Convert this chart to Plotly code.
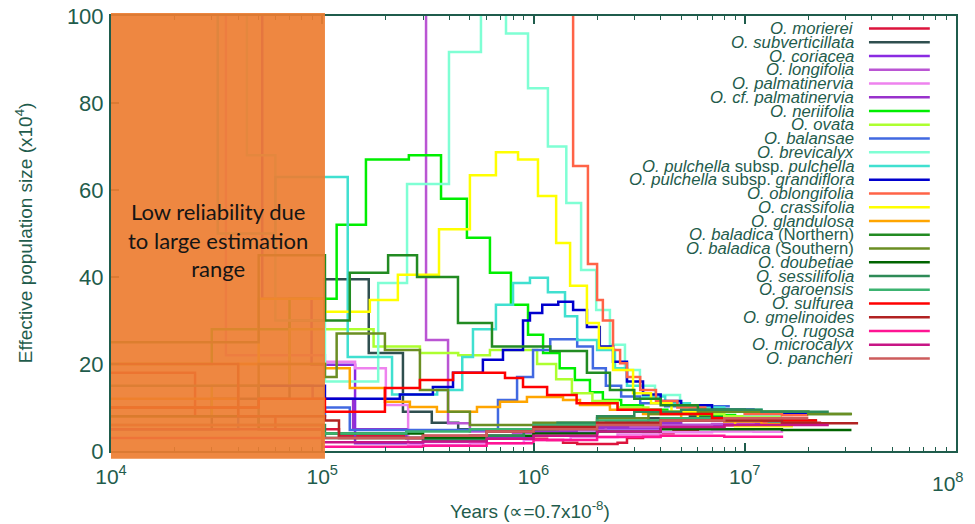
import plotly.graph_objects as go
import math

# ---------------- data ----------------
species = [
    "<i>O. morierei</i>", "<i>O. subverticillata</i>", "<i>O. coriacea</i>", "<i>O. longifolia</i>",
    "<i>O. palmatinervia</i>", "<i>O. cf. palmatinervia</i>", "<i>O. neriifolia</i>", "<i>O. ovata</i>",
    "<i>O. balansae</i>", "<i>O. brevicalyx</i>", "<i>O. pulchella</i> subsp. <i>pulchella</i>",
    "<i>O. pulchella</i> subsp. <i>grandiflora</i>", "<i>O. oblongifolia</i>", "<i>O. crassifolia</i>",
    "<i>O. glandulosa</i>", "<i>O. baladica</i> (Northern)", "<i>O. baladica</i> (Southern)",
    "<i>O. doubetiae</i>", "<i>O. sessilifolia</i>", "<i>O. garoensis</i>", "<i>O. sulfurea</i>",
    "<i>O. gmelinoides</i>", "<i>O. rugosa</i>", "<i>O. microcalyx</i>", "<i>O. pancheri</i>",
]
colors = [
    "#dc143c", "#2f4f4f", "#8a2be2", "#ba55d3", "#ee82ee", "#9932cc", "#00ee00", "#adff2f",
    "#4169e1", "#7fffd4", "#40e0d0", "#0000cd", "#ff6347", "#ffff00", "#ffa500", "#228b22",
    "#6b8e23", "#006400", "#2e8b57", "#3cb371", "#ff0000", "#b22222", "#ff1493", "#c71585",
    "#cd5c5c",
]
x_tick_vals = [1e4, 1e5, 1e6, 1e7]
x_tick_text = ["10<sup>4</sup>", "10<sup>5</sup>", "10<sup>6</sup>", "10<sup>7</sup>"]
x_last_tick_text = "10<sup>8</sup>"

# step edges (years) and effective population size (x10^4) per step
t_morierei = [1e4, 2.5e4, 6e4, 1.2e5, 2.5e5, 5e5, 8e5, 1.16e6, 1.38e6, 1.61e6, 2.5e6, 2.77e6, 3.3e6, 3.97e6, 4.6e6, 6e6, 8e6, 1.1e7, 1.6e7, 2.3e7]
ne_morierei = [18, 8, 5, 3.5, 3.0, 2.8, 2.8, 2.5, 1.9, 1.6, 1.9, 3.0, 3.7, 4.1, 4.8, 5.4, 5.9, 6.3, 6.5]

t_subverticillata = [1e4, 3e4, 7e4, 1.03e5, 1.66e5, 2.41e5, 3.3e5, 4.4e5, 6e5, 9e5, 1.4e6, 2.2e6, 3.5e6, 5.5e6, 9e6, 1.5e7, 2.2e7]
ne_subverticillata = [5, 12, 30, 39.5, 22.5, 9, 6.5, 5, 4.5, 4.8, 5.5, 6.5, 7.5, 8, 7.5, 7]

t_coriacea = [1e4, 5.2e4, 8.9e4, 1.43e5, 3e5, 6e5, 1e6, 2e6, 4e6, 8e6, 1.2e7, 1.7e7]
ne_coriacea = [120, 35, 19.8, 1.8, 2.2, 3.2, 4.2, 5.2, 6, 6.3, 6.1]

t_longifolia = [1e4, 3.1e5, 3.94e5, 5e5, 8e5, 1.3e6, 2.2e6, 4e6, 7e6, 1.1e7, 1.5e7]
ne_longifolia = [150, 25.5, 6.4, 4.5, 4.2, 4.8, 5.5, 6, 6.2, 6]

t_palmatinervia = [1e4, 3.5e4, 1.03e5, 1.43e5, 2.0e5, 2.55e5, 5e5, 9e5, 1.5e6, 2.5e6, 4e6, 7e6, 1.1e7, 1.52e7]
ne_palmatinervia = [110, 22, 20.5, 19, 10.6, 1.4, 1.8, 2.5, 3.2, 3.8, 4.3, 4.5, 4.4]

t_cf_palmatinervia = [1e4, 4e4, 9e4, 1.4e5, 2.5e5, 5e5, 9e5, 1.6e6, 2.8e6, 5e6, 9e6, 1.4e7, 2e7]
ne_cf_palmatinervia = [8, 15, 12, 5, 3, 3.5, 4.5, 5.5, 6.5, 7, 7, 6.8]

t_neriifolia = [1e4, 3e4, 7e4, 1.17e5, 1.61e5, 2.57e5, 3.65e5, 4.84e5, 6.22e5, 7.82e5, 9.42e5, 1.11e6, 1.33e6, 1.57e6, 1.85e6, 2.13e6, 2.6e6, 3.3e6, 4.3e6, 6e6, 9e6, 1.3e7]
ne_neriifolia = [20, 28, 35, 52, 67, 68, 58, 49, 41, 33.6, 26.7, 22.5, 19, 16.3, 13.5, 11.7, 10.5, 9.5, 8.8, 8.3, 8]

t_ovata = [1e4, 3e4, 7e4, 1.03e5, 1.75e5, 2.9e5, 4.4e5, 6.22e5, 1.04e6, 1.28e6, 1.52e6, 1.9e6, 2.5e6, 3.5e6, 5e6, 8e6, 1.5e7]
ne_ovata = [8, 15, 28, 28, 24, 22.5, 22, 23.2, 20, 16.5, 13.3, 11.5, 10, 9, 8.5, 8]

t_balansae = [1e4, 4e4, 1.03e5, 1.35e5, 6.79e5, 8.36e5, 9.95e5, 1.2e6, 1.61e6, 1.91e6, 2.2e6, 2.6e6, 3.2e6, 4.2e6, 8.5e6]
ne_balansae = [5, 8, 10, 4.8, 11.7, 17, 23.2, 25.7, 24, 19, 15, 12.5, 11, 10.3]

t_brevicalyx = [1e4, 4.4e4, 6e4, 1.03e5, 1.84e5, 2.52e5, 3.98e5, 5.64e5, 7.41e5, 9.42e5, 1.17e6, 1.43e6, 1.68e6, 1.98e6, 2.3e6, 2.71e6, 3.19e6, 3.76e6, 4.94e6, 7e6, 1e7, 1.69e7]
ne_brevicalyx = [130, 68, 30, 16, 38.6, 61.4, 91.7, 115, 96, 83.4, 70, 57, 41.6, 32.4, 24.4, 18.6, 15, 12.9, 10.5, 9, 8.3]

t_pulchella = [1e4, 3.2e4, 6e4, 1.32e5, 2.14e5, 3.5e5, 4.6e5, 5.17e5, 6.64e5, 8.0e5, 9.62e5, 1.17e6, 1.41e6, 1.61e6, 2.0e6, 2.43e6, 2.77e6, 3.3e6, 4.2e6, 5.5e6, 8e6, 1.2e7, 1.7e7]
ne_pulchella = [120, 50, 63, 21.6, 13, 14, 21.6, 28, 33.6, 38.6, 39.8, 36.5, 31, 25.5, 23.2, 19, 15, 12.5, 11, 10, 9.5, 9]

t_grandiflora = [1e4, 5e4, 1.03e5, 2.33e5, 3.34e5, 4.16e5, 5.76e5, 7.17e5, 8.92e5, 9.62e5, 1.1e6, 1.31e6, 1.54e6, 1.79e6, 2.06e6, 2.38e6, 2.77e6, 3.3e6, 4e6, 5e6, 7e6, 1.1e7, 1.97e7]
ne_grandiflora = [10, 15, 12, 13, 14.7, 18, 21, 23.2, 30, 31.7, 33.6, 34.3, 32.4, 28.5, 24, 20.5, 16, 13, 11.5, 10.5, 9.5, 8.7]

t_oblongifolia = [1e4, 1.54e6, 1.81e6, 2.0e6, 2.13e6, 2.38e6, 2.57e6, 2.77e6, 3.2e6, 3.8e6, 4.8e6, 6.5e6, 1e7, 1.5e7, 2e7]
ne_oblongifolia = [140, 65.5, 43, 34.7, 30, 23.2, 20.2, 17, 14, 11.5, 10, 9, 8.5, 8.2]

t_crassifolia = [1e4, 5e4, 1.03e5, 1.68e5, 2.28e5, 3.57e5, 5.0e5, 6.64e5, 8.45e5, 1.05e6, 1.28e6, 1.49e6, 1.79e6, 2.04e6, 2.38e6, 2.96e6, 3.6e6, 4.5e6, 6e6, 9e6, 1.69e7]
ne_crassifolia = [20, 35, 32, 34.7, 40.5, 51, 63.4, 68.7, 67, 58.6, 47.8, 38, 29.4, 23.7, 18.6, 13.3, 11, 9, 7.5, 5.7]

t_glandulosa = [1e4, 4e4, 1.03e5, 1.35e5, 1.98e5, 2.6e5, 3.49e5, 5.4e5, 6.94e5, 9.31e5, 1.38e6, 1.66e6, 2.3e6, 3.3e6, 5e6, 8e6, 1.2e7, 1.7e7]
ne_glandulosa = [12, 20, 19, 14.5, 11.3, 10.1, 9, 10.1, 11.3, 12.4, 11.7, 10.6, 9.5, 8.5, 7.5, 6.8, 6.2]

t_baladica_n = [1e4, 5e4, 1.03e5, 1.35e5, 2.05e5, 2.81e5, 4.39e5, 6.36e5, 1.2e6, 1.79e6, 2.3e6, 3e6, 4e6, 6e6, 1e7, 2e7, 3.2e7]
ne_baladica_n = [25, 45, 30, 41, 45, 40, 29.4, 24, 23, 18, 14, 12, 10.5, 9.5, 9, 8.5]

t_baladica_s = [1e4, 5e4, 1.03e5, 1.17e5, 1.98e5, 2.9e5, 3.94e5, 5e5, 1e6, 2e6, 3.5e6, 6e6, 1e7, 2e7, 3.22e7]
ne_baladica_s = [10, 20, 17, 27, 23.2, 14, 9, 6, 6.5, 7.5, 8.5, 9, 9, 8.5]

t_doubetiae = [1e4, 5e4, 1e5, 3e5, 6e5, 1e6, 2e6, 4e6, 8e6, 1.5e7, 3.2e7]
ne_doubetiae = [8, 5, 4, 3, 3.5, 4, 4.5, 5, 5, 4.8]

t_sessilifolia = [1e4, 5e4, 1.03e5, 3e5, 6e5, 9e5, 1.3e6, 2e6, 3e6, 5e6, 8e6, 1.2e7, 2.5e7]
ne_sessilifolia = [15, 6, 3, 2.5, 3.5, 5, 6.5, 8, 9, 9.5, 9.5, 9]

t_garoensis = [1e4, 1e5, 2.5e5, 5e5, 1e6, 2e6, 4e6, 8e6, 1.3e7, 2.2e7]
ne_garoensis = [6, 4, 4.5, 5, 6, 7, 7.5, 7, 6.8]

t_sulfurea = [1e4, 5e4, 1.03e5, 1.98e5, 2.9e5, 4.16e5, 7.33e5, 8.92e5, 1.16e6, 1.6e6, 2.5e6, 4e6, 7e6, 1.2e7, 2.2e7]
ne_sulfurea = [10, 12, 9, 14.5, 16.3, 18, 16.8, 14.7, 12.9, 11, 9.5, 8.5, 7.5, 7]

t_gmelinoides = [1e4, 4e4, 1.03e5, 1.2e5, 3e5, 6e5, 1e6, 2e6, 4e6, 8e6, 1.5e7, 3.44e7]
ne_gmelinoides = [20, 8, 7, 3, 3.5, 4.5, 5.5, 6.5, 7, 7, 6.4]

t_rugosa = [1e4, 1e5, 3e5, 6e5, 1e6, 2e6, 4e6, 8e6, 1.52e7]
ne_rugosa = [3, 1, 1.2, 1.8, 2.5, 3.2, 3.5, 3.3]

t_microcalyx = [1e4, 1e5, 3e5, 6e5, 1e6, 2e6, 4e6, 8e6, 1.5e7, 2.5e7]
ne_microcalyx = [5, 2, 2.2, 2.8, 3.5, 4.5, 5.5, 6, 6]

t_pancheri = [1e4, 1e5, 3e5, 6e5, 1e6, 2e6, 4e6, 8e6, 1.2e7, 2e7]
ne_pancheri = [6, 3, 3.5, 4.5, 5, 6, 7, 7.5, 7.5]

series = [
    (t_morierei, ne_morierei), (t_subverticillata, ne_subverticillata), (t_coriacea, ne_coriacea),
    (t_longifolia, ne_longifolia), (t_palmatinervia, ne_palmatinervia), (t_cf_palmatinervia, ne_cf_palmatinervia),
    (t_neriifolia, ne_neriifolia), (t_ovata, ne_ovata), (t_balansae, ne_balansae), (t_brevicalyx, ne_brevicalyx),
    (t_pulchella, ne_pulchella), (t_grandiflora, ne_grandiflora), (t_oblongifolia, ne_oblongifolia),
    (t_crassifolia, ne_crassifolia), (t_glandulosa, ne_glandulosa), (t_baladica_n, ne_baladica_n),
    (t_baladica_s, ne_baladica_s), (t_doubetiae, ne_doubetiae), (t_sessilifolia, ne_sessilifolia),
    (t_garoensis, ne_garoensis), (t_sulfurea, ne_sulfurea), (t_gmelinoides, ne_gmelinoides),
    (t_rugosa, ne_rugosa), (t_microcalyx, ne_microcalyx), (t_pancheri, ne_pancheri),
]

reliability_limit = 1.03e5
x_log_range = [4, 8]
y_range = [0, 100]

# ---------------- figure ----------------
FRAME = "#1f5c4c"
fig = go.Figure()

for (t, ne), name, col in zip(series, species, colors):
    fig.add_trace(go.Scatter(
        x=t, y=ne + [ne[-1]], mode="lines", line=dict(color=col, width=2.5, shape="hv"),
        name=name, showlegend=False, hoverinfo="skip",
    ))

shapes = []
annotations = []

# low reliability box
xfrac = (math.log10(reliability_limit) - x_log_range[0]) / (x_log_range[1] - x_log_range[0])
shapes.append(dict(type="rect", xref="paper", yref="paper", x0=0, x1=xfrac, y0=-0.018, y1=1.007,
                   fillcolor="rgba(237,125,49,0.92)", line=dict(width=0), layer="above"))
annotations.append(dict(xref="paper", yref="paper", x=xfrac / 2, y=0.485, xanchor="center", yanchor="middle",
                        text="Low reliability due<br>to large estimation<br>range", showarrow=False,
                        font=dict(family="Lato", size=22, color="#151515"), align="center"))

# manual legend (text right-aligned, sample on the right)
y_top_px, step_px, plot_top, plot_h = 28.5, 13.75, 16, 435
for i, (name, col) in enumerate(zip(species, colors)):
    ypx = y_top_px + i * step_px
    yp = 1 - (ypx - plot_top) / plot_h
    annotations.append(dict(xref="paper", yref="paper", x=0.8815, y=yp, xanchor="right", yanchor="middle",
                            text=name, showarrow=False,
                            font=dict(family="Liberation Sans", size=16.7, color=FRAME)))
    shapes.append(dict(type="line", xref="paper", yref="paper", x0=0.897, x1=0.969, y0=yp, y1=yp,
                       line=dict(color=col, width=2.5), layer="above"))

# last x tick label (kept inside the visible page edge)
annotations.append(dict(xref="paper", yref="paper", x=1.0, y=-0.071, xanchor="right", yanchor="middle",
                        xshift=10, text=x_last_tick_text, showarrow=False,
                        font=dict(family="Liberation Sans", size=21, color=FRAME)))

# axis titles
annotations.append(dict(xref="paper", yref="paper", x=0.496, y=-0.136, xanchor="center", yanchor="middle",
                        text="Years (∝=0.7x10<sup>-8</sup>)", showarrow=False,
                        font=dict(family="Liberation Sans", size=19, color=FRAME)))
annotations.append(dict(xref="paper", yref="paper", x=-0.103, y=0.503, xanchor="center", yanchor="middle",
                        text="Effective population size (x10<sup>4</sup>)", showarrow=False, textangle=-90,
                        font=dict(family="Liberation Sans", size=19, color=FRAME)))

# page body adds an 8px offset; size the figure so the plot lands where the reference's does
fig.update_layout(
    width=967, height=516,
    margin=dict(l=103, r=19, t=8, b=73, autoexpand=False),
    paper_bgcolor="white", plot_bgcolor="white",
    showlegend=False,
    shapes=shapes, annotations=annotations,
    font=dict(family="Liberation Sans", color=FRAME),
)
fig.update_xaxes(
    type="log", range=x_log_range, tickmode="array", tickvals=x_tick_vals, ticktext=x_tick_text,
    ticks="inside", ticklen=8, tickwidth=1.5, tickcolor=FRAME,
    minor=dict(ticks="inside", ticklen=4, tickwidth=1, tickcolor=FRAME, dtick="D1", showgrid=False),
    showline=True, linecolor=FRAME, linewidth=2, mirror="ticks", showgrid=False, zeroline=False,
    tickfont=dict(family="Liberation Sans", size=21, color=FRAME), ticklabelstandoff=6,
    ticklabeloverflow="allow", automargin=False,
)
fig.update_yaxes(
    range=y_range, dtick=20, ticks="inside", ticklen=8, tickwidth=1.5, tickcolor=FRAME,
    showline=True, linecolor=FRAME, linewidth=2, mirror=True, showgrid=False, zeroline=False,
    tickfont=dict(family="Liberation Sans", size=22, color=FRAME), ticklabelstandoff=1,
    ticklabeloverflow="allow", automargin=False,
)

fig.write_html("out.html")
